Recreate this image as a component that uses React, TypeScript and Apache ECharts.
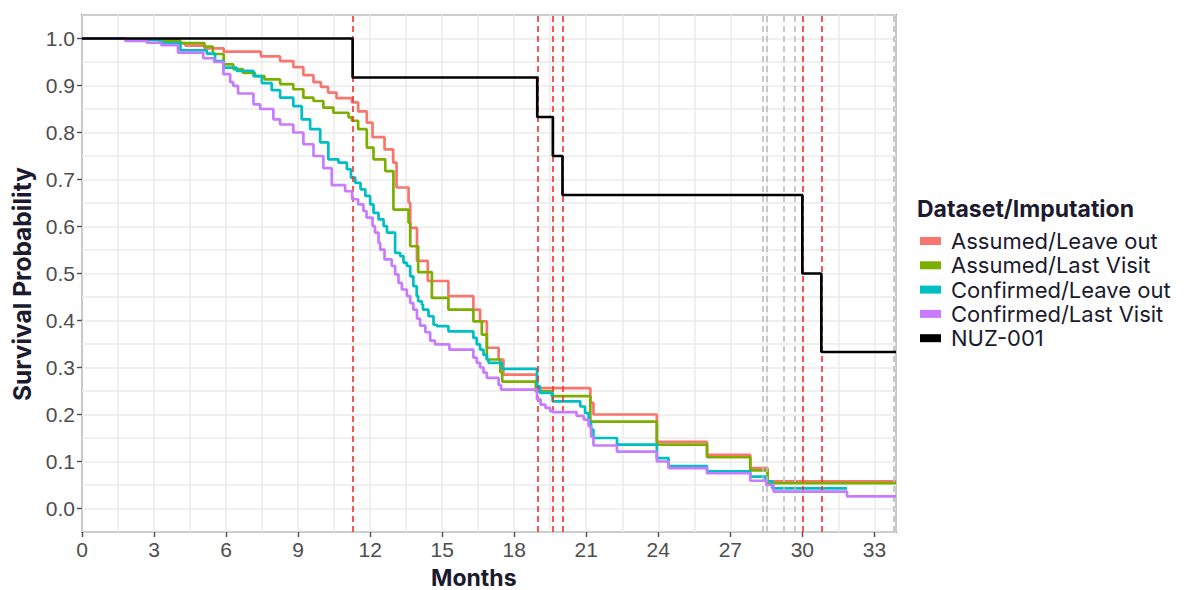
import React, { useEffect, useRef } from "react";
import * as echarts from "echarts";

// Kaplan-Meier estimates: [month, survival probability], value holds from that month on
const assumedLeaveOut: [number, number][] = [
  [0, 1.0], [1.8, 0.997], [4.0, 0.99], [4.3, 0.985], [5.1, 0.979], [5.9, 0.972],
  [7.45, 0.962], [8.25, 0.952], [8.8, 0.939], [9.22, 0.922], [9.64, 0.907], [9.95, 0.897],
  [10.25, 0.885], [10.6, 0.873], [11.24, 0.864], [11.5, 0.845], [11.86, 0.821], [12.1, 0.79],
  [12.6, 0.764], [12.96, 0.736], [13.1, 0.683], [13.6, 0.651], [13.67, 0.597], [13.95, 0.527],
  [14.4, 0.484], [15.26, 0.452], [16.3, 0.423], [16.58, 0.398], [16.86, 0.342], [17.35, 0.317],
  [17.55, 0.285], [18.95, 0.256], [21.17, 0.225], [21.3, 0.2], [23.94, 0.142], [26.03, 0.114],
  [27.83, 0.086], [28.55, 0.058], [33.9, 0.058],
];

const assumedLastVisit: [number, number][] = [
  [0, 1.0], [1.8, 0.998], [3.2, 0.995], [4.1, 0.99], [5.1, 0.983], [5.45, 0.967], [5.9, 0.945],
  [6.3, 0.935], [6.7, 0.927], [7.2, 0.92], [7.6, 0.913], [8.25, 0.903], [8.8, 0.892],
  [9.22, 0.874], [9.64, 0.867], [10.05, 0.853], [10.47, 0.842], [11.1, 0.832], [11.24, 0.825],
  [11.5, 0.807], [11.86, 0.768], [12.14, 0.743], [12.63, 0.718], [12.97, 0.636], [13.6, 0.608],
  [13.67, 0.558], [14.0, 0.503], [14.57, 0.448], [15.26, 0.423], [16.3, 0.398], [16.65, 0.37],
  [16.86, 0.317], [17.42, 0.29], [17.5, 0.27], [18.9, 0.249], [19.57, 0.239], [21.17, 0.185],
  [23.94, 0.136], [26.03, 0.109], [27.83, 0.081], [28.55, 0.054], [33.9, 0.054],
];

const confirmedLeaveOut: [number, number][] = [
  [0, 1.0], [1.8, 0.997], [3.3, 0.99], [4.1, 0.975], [5.2, 0.968], [5.54, 0.952], [5.89, 0.938],
  [6.44, 0.931], [7.14, 0.92], [7.49, 0.905], [7.9, 0.89], [8.25, 0.874], [8.8, 0.856],
  [9.15, 0.828], [9.5, 0.807], [9.92, 0.779], [10.26, 0.743], [10.68, 0.736], [11.03, 0.722],
  [11.2, 0.704], [11.38, 0.693], [11.6, 0.679], [11.8, 0.665], [12.0, 0.647], [12.14, 0.629],
  [12.35, 0.615], [12.56, 0.601], [12.7, 0.587], [13.04, 0.544], [13.25, 0.537], [13.39, 0.523],
  [13.53, 0.516], [13.67, 0.494], [13.8, 0.473], [13.94, 0.452], [14.0, 0.441], [14.15, 0.434],
  [14.2, 0.423], [14.43, 0.409], [14.64, 0.391], [14.78, 0.388], [15.26, 0.377], [16.3, 0.363],
  [16.44, 0.349], [16.58, 0.338], [16.72, 0.327], [16.86, 0.317], [16.93, 0.31], [17.49, 0.297],
  [18.95, 0.26], [19.08, 0.246], [19.6, 0.228], [20.75, 0.217], [20.95, 0.203], [21.1, 0.185],
  [21.2, 0.168], [21.3, 0.15], [22.28, 0.136], [23.94, 0.107], [24.43, 0.09], [26.03, 0.079],
  [27.83, 0.068], [28.47, 0.058], [28.75, 0.043], [31.86, 0.043],
];

const confirmedLastVisit: [number, number][] = [
  [0, 1.0], [1.8, 0.995], [2.7, 0.991], [3.3, 0.986], [4.0, 0.97], [5.05, 0.958], [5.5, 0.95],
  [5.89, 0.924], [6.17, 0.907], [6.3, 0.899], [6.5, 0.883], [7.14, 0.86], [7.42, 0.85],
  [7.97, 0.828], [8.25, 0.817], [8.8, 0.8], [9.22, 0.775], [9.64, 0.75], [10.05, 0.724],
  [10.4, 0.688], [10.96, 0.675], [11.25, 0.658], [11.5, 0.647], [11.72, 0.633], [11.85, 0.619],
  [12.1, 0.601], [12.2, 0.587], [12.35, 0.565], [12.42, 0.551], [12.6, 0.53], [12.9, 0.516],
  [13.04, 0.498], [13.18, 0.48], [13.32, 0.466], [13.53, 0.452], [13.67, 0.437], [13.8, 0.423],
  [13.95, 0.404], [14.08, 0.389], [14.3, 0.375], [14.5, 0.357], [14.7, 0.349], [15.3, 0.338],
  [16.3, 0.321], [16.44, 0.31], [16.58, 0.3], [16.72, 0.289], [16.86, 0.278], [17.35, 0.263],
  [17.45, 0.253], [18.95, 0.232], [19.1, 0.221], [19.3, 0.214], [19.5, 0.207], [19.6, 0.205],
  [20.6, 0.197], [20.9, 0.189], [21.1, 0.175], [21.2, 0.153], [21.3, 0.134], [22.28, 0.121],
  [23.94, 0.1], [24.43, 0.086], [26.03, 0.075], [27.83, 0.059], [28.5, 0.05], [28.8, 0.036],
  [31.86, 0.026], [33.9, 0.026],
];

const nuz001: [number, number][] = [
  [0, 1.0], [11.27, 0.917], [18.96, 0.833], [19.61, 0.75], [20.01, 0.667],
  [30.0, 0.5], [30.79, 0.333], [33.9, 0.333],
];

// NUZ-001 event times (red) and censoring times (grey)
const nuzEventMonths = [11.27, 18.96, 19.61, 20.01, 30.0, 30.79];
const nuzCensorMonths = [28.36, 28.53, 29.22, 29.67, 33.8];

const monthTicks = [0, 3, 6, 9, 12, 15, 18, 21, 24, 27, 30, 33];
const probTicks = [0.0, 0.1, 0.2, 0.3, 0.4, 0.5, 0.6, 0.7, 0.8, 0.9, 1.0];

const curveNames = [
  "Assumed/Leave out",
  "Assumed/Last Visit",
  "Confirmed/Leave out",
  "Confirmed/Last Visit",
  "NUZ-001",
];
const curveData = [assumedLeaveOut, assumedLastVisit, confirmedLeaveOut, confirmedLastVisit, nuz001];
const curveColors = ["#F8766D", "#7CAE00", "#00BFC4", "#C77CFF", "#000000"];

const inkColor = "#1b1a2e";
const titleFont = "Inter, 'Noto Sans', sans-serif";
const tickFont = "'Liberation Sans', Arial, sans-serif";
const gridColor = "#EBEBEB";
const tickColor = "#4d4d4d";

export default function App() {
  const ref = useRef<HTMLDivElement>(null);

  useEffect(() => {
    const chart = echarts.init(ref.current!, null, { renderer: "svg" });

    const vline = (name: string, months: number[], color: string, z: number) => ({
      name,
      type: "line",
      data: [],
      silent: true,
      z,
      markLine: {
        silent: true,
        symbol: ["none", "none"],
        label: { show: false },
        emphasis: { disabled: true },
        lineStyle: { color, type: [6, 4], width: 1.6 },
        data: months.map((m) => ({ xAxis: m })),
      },
    });

    const tickLabel = {
      fontFamily: tickFont,
      fontSize: 21,
      color: "#4D4D4D",
      margin: 7,
    };

    chart.setOption({
      animation: false,
      backgroundColor: "#ffffff",
      grid: {
        left: 82,
        right: 297,
        top: 15,
        bottom: 58,
        show: true,
        borderColor: "#4a4a4a",
        borderWidth: 1.7,
        backgroundColor: "transparent",
      },
      title: {
        text: "Dataset/Imputation",
        left: 917,
        top: 197,
        padding: 0,
        textStyle: { fontFamily: titleFont, fontSize: 23, fontWeight: 700, color: inkColor },
      },
      legend: {
        orient: "vertical",
        left: 920,
        top: 230,
        padding: 0,
        itemWidth: 21,
        itemHeight: 8,
        itemGap: 2.3,
        icon: "rect",
        data: curveNames,
        textStyle: {
          fontFamily: titleFont,
          fontSize: 22,
          lineHeight: 22,
          color: inkColor,
          padding: [0, 0, 0, 5],
        },
      },
      graphic: [
        {
          type: "text",
          left: 474 - 43,
          top: 566,
          style: {
            text: "Months",
            font: `700 23px ${titleFont}`,
            fill: inkColor,
          },
        },
        {
          type: "text",
          x: 22,
          y: 284,
          rotation: Math.PI / 2,
          style: {
            text: "Survival Probability",
            font: `700 24.5px ${titleFont}`,
            fill: inkColor,
            align: "center",
            verticalAlign: "middle",
          },
        },
      ],
      xAxis: [
        {
          // gridlines every 1.5 months
          type: "value",
          min: 0,
          max: 33.9,
          interval: 1.5,
          axisLine: { show: false, onZero: false },
          axisTick: { show: false },
          axisLabel: { show: false },
          splitLine: { show: true, lineStyle: { color: gridColor, width: 1.5 } },
        },
        {
          // labelled ticks every 3 months
          type: "value",
          position: "bottom",
          min: 0,
          max: 33.9,
          axisLine: { show: false, onZero: false },
          axisTick: {
            show: true,
            length: 5,
            customValues: monthTicks,
            lineStyle: { color: tickColor, width: 1.4 },
          },
          axisLabel: {
            ...tickLabel,
            customValues: monthTicks,
            formatter: (v: number) => String(v),
          },
          splitLine: { show: false },
        },
      ],
      yAxis: [
        {
          type: "value",
          min: -0.05,
          max: 1.05,
          interval: 0.05,
          axisLine: { show: false, onZero: false },
          axisTick: { show: false },
          axisLabel: { show: false },
          splitLine: { show: true, lineStyle: { color: gridColor, width: 1.5 } },
        },
        {
          type: "value",
          position: "left",
          min: -0.05,
          max: 1.05,
          axisLine: { show: false, onZero: false },
          axisTick: {
            show: true,
            length: 5,
            customValues: probTicks,
            lineStyle: { color: tickColor, width: 1.4 },
          },
          axisLabel: {
            ...tickLabel,
            customValues: probTicks,
            formatter: (v: number) => v.toFixed(1),
          },
          splitLine: { show: false },
        },
      ],
      series: [
        vline("censorLines", nuzCensorMonths, "#BDBDBD", 1),
        vline("eventLines", nuzEventMonths, "#F5302A", 1),
        ...curveNames.map((name, i) => ({
          name,
          type: "line",
          step: "end",
          data: curveData[i],
          showSymbol: false,
          symbol: "none",
          color: curveColors[i],
          lineStyle: { color: curveColors[i], width: 2.7 },
          emphasis: { disabled: true },
          z: 2 + i,
        })),
      ],
    });

    return () => chart.dispose();
  }, []);

  return (
    <div
      ref={ref}
      style={{ position: "fixed", left: 0, top: 0, width: 1193, height: 590, background: "#fff" }}
    />
  );
}
